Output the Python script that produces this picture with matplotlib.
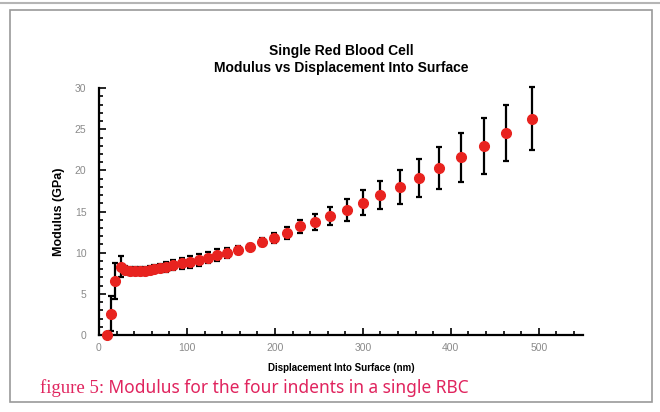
import numpy as np
import matplotlib.pyplot as plt
from matplotlib.patches import Rectangle
from matplotlib.ticker import MultipleLocator

# displacement into surface (nm), modulus (GPa), error (GPa)
displacement = [8.7, 13.5, 18, 24.6, 30, 35.5, 41, 46.5, 52, 57.5, 63, 69, 76,
                84.5, 94, 103, 114, 124, 134.5, 145, 158, 171.6, 185, 199, 214,
                229, 246, 263, 281.5, 300, 320, 342, 364, 387, 411, 437.5, 463, 492]
modulus = [0.0, 2.6, 6.6, 8.3, 7.9, 7.8, 7.8, 7.8, 7.8, 7.9, 8.0, 8.1, 8.3,
           8.5, 8.7, 8.9, 9.1, 9.4, 9.7, 10.0, 10.3, 10.7, 11.3, 11.8, 12.4,
           13.2, 13.7, 14.5, 15.2, 16.1, 17.0, 18.0, 19.1, 20.3, 21.6, 23.0, 24.6, 26.3]
error = [0.0, 2.1, 2.2, 1.3, 0.5, 0.5, 0.5, 0.5, 0.5, 0.5, 0.5, 0.5, 0.6,
         0.6, 0.7, 0.7, 0.7, 0.7, 0.7, 0.6, 0.5, 0.4, 0.5, 0.6, 0.7,
         0.8, 0.95, 1.1, 1.35, 1.5, 1.7, 2.1, 2.35, 2.6, 2.95, 3.4, 3.4, 3.8]

title = "Single Red Blood Cell\nModulus vs Displacement Into Surface"
caption_a = "figure 5:"
caption_b = " Modulus for the four indents in a single RBC"

plt.rcParams['font.family'] = ['Liberation Sans', 'DejaVu Sans']

fig = plt.figure(figsize=(6.6, 4.12), dpi=100)
fig.patch.set_facecolor('white')

# scanned page frame
fig.add_artist(Rectangle((10 / 660, 1 - 402 / 412), 642 / 660, 392 / 412,
                         transform=fig.transFigure, fill=False,
                         edgecolor='#9a9a9a', lw=1.2))
fig.add_artist(plt.Line2D([0, 1], [1 - 3 / 412, 1 - 3 / 412],
                          transform=fig.transFigure, color='#b5b5b5', lw=1.5))

ax = fig.add_axes([0.15, 0.187, 0.733, 0.599])
ax.errorbar(displacement, modulus, yerr=error, fmt='o', color='#e8231f',
            ms=7, ecolor='black', elinewidth=1.6, capsize=2.5, capthick=1.6,
            clip_on=False, zorder=3)

ax.set_xlim(0, 550)
ax.set_ylim(0, 30)
ax.xaxis.set_major_locator(MultipleLocator(100))
ax.xaxis.set_minor_locator(MultipleLocator(20))
ax.yaxis.set_major_locator(MultipleLocator(5))
ax.yaxis.set_minor_locator(MultipleLocator(1))
ax.tick_params(which='both', direction='in', color='black', width=1.2,
               labelsize=7.5, labelcolor='#8a8a8a')
ax.tick_params(which='major', length=5)
ax.tick_params(which='minor', length=3)
ax.tick_params(axis='x', which='major', pad=6)
ax.tick_params(axis='y', which='major', pad=9)
for s in ['top', 'right']:
    ax.spines[s].set_visible(False)
for s in ['left', 'bottom']:
    ax.spines[s].set_linewidth(1.6)

ax.set_title(title, fontsize=10, fontweight='bold', pad=12, linespacing=1.2)
ax.set_xlabel("Displacement Into Surface (nm)", fontsize=7, fontweight='bold',
              labelpad=7)
ax.set_ylabel("Modulus (GPa)", fontsize=9, fontweight='bold', labelpad=7)

t1 = fig.text(40 / 660, 1 - 393 / 412, caption_a, fontsize=13.5,
              family=['Liberation Serif', 'DejaVu Serif'], color='#e0245e')
ax.annotate(caption_b, xy=(1, 0), xycoords=t1, fontsize=12.5,
            family=['Noto Sans', 'DejaVu Sans'], color='#e0245e',
            va='bottom', ha='left', annotation_clip=False)

fig.savefig('out.png', dpi=100, facecolor='white')
